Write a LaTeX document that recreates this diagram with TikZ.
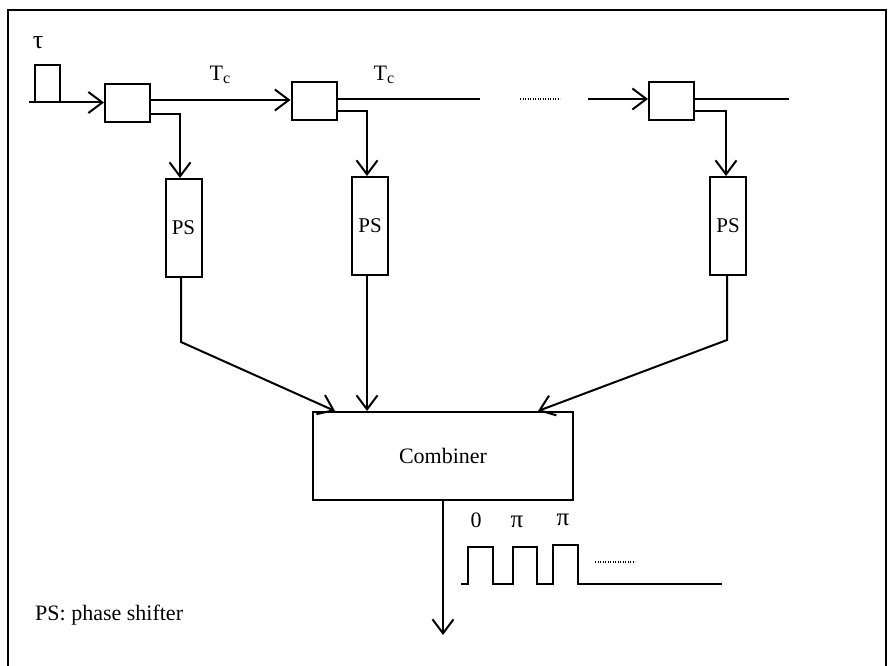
\documentclass[tikz,border=0pt]{standalone}
\usepackage{fontspec}
\setmainfont{Liberation Serif}
\usetikzlibrary{arrows.meta}
\begin{document}
\begin{tikzpicture}[x=1pt,y=-1pt,
  ln/.style={line width=2pt},
  arr/.style={ln,-{Straight Barb[length=14pt,width=21pt,line width=2pt]}},
  blk/.style={draw,line width=2pt,inner sep=0pt,minimum width=45pt,minimum height=38pt},
  psbox/.style={draw,line width=2pt,inner sep=0pt,minimum width=36pt,minimum height=98pt,font=\fontsize{21}{24}\selectfont},
  lbl/.style={inner sep=0pt,font=\fontsize{22}{26}\selectfont},
  dots/.style={line width=1.4pt,dash pattern=on 1.2pt off 1.3pt},
  font=\fontsize{22}{26}\selectfont]
\useasboundingbox (0,0) rectangle (889,666);
% frame
\draw[line width=2.8pt] (8,667) -- (8,10) -- (886,10) -- (886,667);
% delay boxes
\node[blk] (b1) at (127.5,103) {};
\node[blk] (b2) at (314,101) {};
\node[blk] (b3) at (671.5,101) {};
% phase shifters
\node[psbox] (ps1) at (183.5,228) {PS};
\node[psbox] (ps2) at (370,226) {PS};
\node[psbox] (ps3) at (728,226) {PS};
% combiner
\node[draw,line width=2pt,minimum width=260pt,minimum height=88pt,inner sep=0pt,font=\fontsize{22}{26}\selectfont] (comb) at (443,456) {Combiner};
% labels
\node[lbl] (tau) at (38,43) {\fontsize{26}{28}\selectfont τ};
\node[lbl] (tc1) at (220,75) {T\raisebox{-0.35ex}{\fontsize{16}{16}\selectfont c}};
\node[lbl] (tc2) at (384,75) {T\raisebox{-0.35ex}{\fontsize{16}{16}\selectfont c}};
\node[lbl] (z0) at (476,520) {0};
\node[lbl] (p1) at (517,522) {\fontsize{25}{26}\selectfont π};
\node[lbl] (p2) at (563,520) {\fontsize{25}{26}\selectfont π};
\node[lbl,anchor=west] (leg) at (35,615) {PS: phase shifter};
% input pulse
\coordinate (in0) at (29,102.5);
\draw[ln] (in0) -- (35,102.5) -- (35,65) -- (60,65) -- (60,102.5);
\draw[arr] (in0) -- (b1.west |- in0);
% delay line
\coordinate (y100) at (0,100);
\draw[arr] (b1.east |- y100) -- (b2.west |- y100);
\coordinate (e2) at (480,99);
\draw[ln] (b2.east |- e2) -- (e2);
\coordinate (dA) at (520,99);
\coordinate (dB) at (560,99);
\draw[dots] (dA) -- (dB);
\coordinate (s3) at (588,99);
\draw[arr] (s3) -- (b3.west |- s3);
\coordinate (e3) at (789,99);
\draw[ln] (b3.east |- e3) -- (e3);
% branches
\coordinate (k1) at (180,114);
\coordinate (k2) at (367,111);
\coordinate (k3) at (726,111);
\draw[arr] (b1.east |- k1) -- (k1) -- (k1 |- ps1.north);
\draw[arr] (b2.east |- k2) -- (k2) -- (k2 |- ps2.north);
\draw[arr] (b3.east |- k3) -- (k3) -- (k3 |- ps3.north);
% to combiner
\coordinate (m1) at (181,342);
\coordinate (m3) at (727,340);
\coordinate (t1) at (335,412);
\coordinate (t2) at (367,412);
\coordinate (t3) at (538,412);
\draw[arr] (m1 |- ps1.south) -- (m1) -- (t1 |- comb.north);
\draw[arr] (t2 |- ps2.south) -- (t2 |- comb.north);
\draw[arr] (m3 |- ps3.south) -- (m3) -- (t3 |- comb.north);
% output
\coordinate (out) at (443,635);
\draw[arr] (comb.south -| out) -- (out);
% pulse train
\draw[ln] (461,584) -- (468,584) -- (468,547) -- (493,547) -- (493,584)
  -- (513,584) -- (513,547) -- (537,547) -- (537,584)
  -- (553,584) -- (553,545) -- (578,545) -- (578,584) -- (722,584);
\draw[dots] (595,562) -- (635,562);
\end{tikzpicture}
\end{document}
